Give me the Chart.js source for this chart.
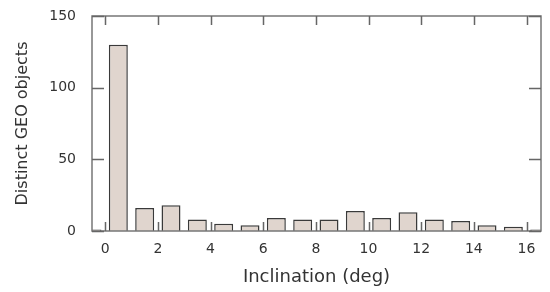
<!DOCTYPE html>
<html>
<head>
<meta charset="utf-8">
<script src="https://cdn.jsdelivr.net/npm/chart.js@4"></script>
<style>
  html, body { margin: 0; padding: 0; background: #fff; }
  .chart-wrap { width: 550px; height: 292px; position: relative; }
</style>
</head>
<body>
<div class="chart-wrap"><canvas id="chart"></canvas></div>
<script>
// inclination bin centres (deg) and object counts
const binCenters = [-0.5, 0.5, 1.5, 2.5, 3.5, 4.5, 5.5, 6.5, 7.5, 8.5, 9.5, 10.5, 11.5, 12.5, 13.5, 14.5, 15.5, 16.5];
const objectCounts = [1, 130, 16, 18, 8, 5, 4, 9, 8, 8, 14, 9, 13, 8, 7, 4, 3, 1];
const xTicks = [0, 2, 4, 6, 8, 10, 12, 14, 16];
const yTicks = [0, 50, 100, 150];

// ticks point into the plot on all four sides, plus the box frame
const frameAndTicks = {
  id: 'frameAndTicks',
  afterDraw(chart) {
    const { ctx, chartArea: a, scales } = chart;
    ctx.save();
    ctx.strokeStyle = '#777';
    ctx.lineWidth = 1.5;
    ctx.strokeRect(a.left, a.top, a.right - a.left, a.bottom - a.top);
    ctx.strokeStyle = '#666';
    ctx.beginPath();
    xTicks.forEach(v => {
      const px = Math.round(scales.x.getPixelForValue(v)) + 0.5;
      ctx.moveTo(px, a.top); ctx.lineTo(px, a.top + 9);
      ctx.moveTo(px, a.bottom); ctx.lineTo(px, a.bottom - 9);
    });
    yTicks.forEach(v => {
      const py = Math.round(scales.y.getPixelForValue(v)) + 0.5;
      ctx.moveTo(a.left, py); ctx.lineTo(a.left + 12, py);
      ctx.moveTo(a.right, py); ctx.lineTo(a.right - 12, py);
    });
    ctx.stroke();
    ctx.restore();
  }
};

new Chart(document.getElementById('chart'), {
  type: 'bar',
  data: {
    datasets: [{
      data: binCenters.map((x, i) => ({ x, y: objectCounts[i] })),
      backgroundColor: '#e0d5ce',
      borderColor: '#3a3a3a',
      borderWidth: 1.5,
      barPercentage: 0.72,
      categoryPercentage: 1.0,
    }],
  },
  options: {
    responsive: true,
    maintainAspectRatio: false,
    animation: false,
    layout: { padding: { top: 16, right: 9, left: 0, bottom: 0 } },
    plugins: {
      legend: { display: false },
      tooltip: { enabled: false },
    },
    scales: {
      x: {
        type: 'linear',
        min: -0.5,
        max: 16.55,
        offset: false,
        afterBuildTicks: scale => { scale.ticks = xTicks.map(v => ({ value: v })); },
        afterFit: scale => {
          scale.height = 61;
          scale.paddingLeft = 0;
          scale.paddingRight = 0;
        },
        grid: { display: false, drawTicks: false },
        border: { display: false },
        ticks: {
          padding: 10,
          color: '#333',
          font: { family: 'DejaVu Sans', size: 14 },
        },
        title: {
          display: true,
          text: 'Inclination (deg)',
          color: '#333',
          padding: { top: 7 },
          font: { family: 'DejaVu Sans', size: 18 },
        },
      },
      y: {
        min: 0,
        max: 150,
        afterBuildTicks: scale => { scale.ticks = yTicks.map(v => ({ value: v })); },
        afterFit: scale => {
          scale.width = 92;
          scale.paddingTop = 0;
          scale.paddingBottom = 0;
        },
        grid: { display: false, drawTicks: false },
        border: { display: false },
        ticks: {
          padding: 16,
          color: '#333',
          font: { family: 'DejaVu Sans', size: 14 },
        },
        title: {
          display: true,
          text: 'Distinct GEO objects',
          color: '#333',
          padding: { top: 13, bottom: 0 },
          font: { family: 'DejaVu Sans', size: 16 },
        },
      },
    },
  },
  plugins: [frameAndTicks],
});
</script>
</body>
</html>
